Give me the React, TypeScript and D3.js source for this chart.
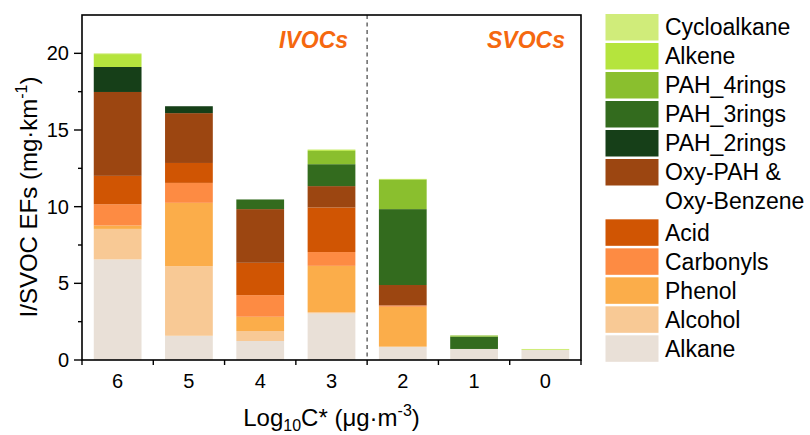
import * as d3 from 'd3'

const categories = ['6', '5', '4', '3', '2', '1', '0']

const groups = [
  'Alkane', 'Alcohol', 'Phenol', 'Carbonyls', 'Acid', 'OxyPAH',
  'PAH_2rings', 'PAH_3rings', 'PAH_4rings', 'Alkene', 'Cycloalkane',
]

// per category, bottom → top
const alkane = [6.56, 1.58, 1.24, 3.04, 0.87, 0.72, 0.65]
const alcohol = [1.99, 4.54, 0.65, 0.08, 0, 0, 0]
const phenol = [0.22, 4.13, 0.93, 3.02, 2.6, 0, 0]
const carbonyls = [1.39, 1.3, 1.41, 0.9, 0.09, 0, 0]
const acid = [1.85, 1.3, 2.11, 2.91, 0, 0, 0]
const oxyPah = [5.47, 3.25, 3.5, 1.39, 1.33, 0, 0]
const pah2 = [1.63, 0.45, 0, 0, 0, 0, 0]
const pah3 = [0, 0, 0.63, 1.43, 4.95, 0.8, 0]
const pah4 = [0, 0, 0, 0.87, 1.93, 0.08, 0]
const alkene = [0.84, 0, 0, 0.08, 0.04, 0, 0]
const cycloalkane = [0.05, 0, 0, 0, 0, 0, 0.07]

const series = [alkane, alcohol, phenol, carbonyls, acid, oxyPah, pah2, pah3, pah4, alkene, cycloalkane]

const colors = ['#e9e0d7', '#f8c995', '#fbad4a', '#fd8b43', '#d05503', '#9c4611',
  '#163f18', '#336b1e', '#8abf2e', '#b5e43d', '#d0ec7a']

// legend, top → bottom
const legendItems = [
  { key: 'Cycloalkane', lines: ['Cycloalkane'] },
  { key: 'Alkene', lines: ['Alkene'] },
  { key: 'PAH_4rings', lines: ['PAH_4rings'] },
  { key: 'PAH_3rings', lines: ['PAH_3rings'] },
  { key: 'PAH_2rings', lines: ['PAH_2rings'] },
  { key: 'OxyPAH', lines: ['Oxy-PAH &', 'Oxy-Benzene'] },
  { key: 'Acid', lines: ['Acid'] },
  { key: 'Carbonyls', lines: ['Carbonyls'] },
  { key: 'Phenol', lines: ['Phenol'] },
  { key: 'Alcohol', lines: ['Alcohol'] },
  { key: 'Alkane', lines: ['Alkane'] },
]

const yMajor = [0, 5, 10, 15, 20]
const yMinor = [2.5, 7.5, 12.5, 17.5]

const font = 'Liberation Sans, Arial, sans-serif'

export default function App() {
  const margin = { top: 15, left: 82 }
  const plotW = 499
  const plotH = 345

  const x = d3.scaleBand().domain(categories).range([0, plotW]).padding(0)
  const y = d3.scaleLinear().domain([0, 22.5]).range([plotH, 0])
  const barW = x.bandwidth() * 0.67

  const rows = categories.map((c, i) => {
    const r: Record<string, any> = { cat: c }
    groups.forEach((g, j) => { r[g] = series[j][i] })
    return r
  })
  const stacked = d3.stack<any>().keys(groups)(rows)
  const color = d3.scaleOrdinal<string>().domain(groups).range(colors)

  const boundaries = d3.range(categories.length + 1).map(i => i * x.step())

  return (
    <svg width={810} height={435} style={{ position: 'absolute', left: 0, top: 0 }} fontFamily={font}>
      <g transform={`translate(${margin.left},${margin.top})`}>
        {stacked.map(s => (
          <g key={s.key} fill={color(s.key)}>
            {s.map((d, i) => d[1] - d[0] > 0 ? (
              <rect key={i}
                x={(x(categories[i]) || 0) + (x.bandwidth() - barW) / 2}
                y={y(d[1])}
                width={barW}
                height={y(d[0]) - y(d[1])} />
            ) : null)}
          </g>
        ))}

        {/* IVOC / SVOC divider */}
        <line x1={x('2')} x2={x('2')} y1={0} y2={plotH}
          stroke="#7a7a7a" strokeWidth={1.7} strokeDasharray="4,3.5" />
        <text x={(x('2') || 0) - 19} y={33} textAnchor="end" fontSize={23}
          fontWeight="bold" fontStyle="italic" fill="#f5680f">IVOCs</text>
        <text x={plotW - 16} y={33} textAnchor="end" fontSize={23}
          fontWeight="bold" fontStyle="italic" fill="#f5680f">SVOCs</text>

        {/* frame */}
        <rect x={0} y={0} width={plotW} height={plotH} fill="none" stroke="#000" strokeWidth={1.6} />

        {/* y ticks */}
        {yMajor.map(v => (
          <g key={v} transform={`translate(0,${y(v)})`}>
            <line x1={-8} x2={0} stroke="#000" strokeWidth={1.4} />
            <text x={-13} dy="0.35em" textAnchor="end" fontSize={20}>{v}</text>
          </g>
        ))}
        {yMinor.map(v => (
          <line key={v} x1={-4} x2={0} y1={y(v)} y2={y(v)} stroke="#000" strokeWidth={1.4} />
        ))}

        {/* x ticks */}
        {boundaries.map((b, i) => (
          <line key={i} x1={b} x2={b} y1={plotH} y2={plotH + 5} stroke="#000" strokeWidth={1.4} />
        ))}
        {categories.map(c => (
          <text key={c} x={(x(c) || 0) + x.bandwidth() / 2} y={plotH + 28}
            textAnchor="middle" fontSize={20}>{c}</text>
        ))}

        <text x={plotW / 2} y={plotH + 66} textAnchor="middle" fontSize={24}>
          Log<tspan fontSize={16} dy={5}>10</tspan><tspan dy={-5}>C* (μg·m</tspan>
          <tspan fontSize={16} dy={-10}>-3</tspan><tspan dy={10}>)</tspan>
        </text>
      </g>

      <text transform="translate(37,197) rotate(-90)" textAnchor="middle" fontSize={24}>
        I/SVOC EFs (mg·km<tspan fontSize={16} dy={-10}>-1</tspan><tspan dy={10}>)</tspan>
      </text>

      {/* legend */}
      <g>
        {legendItems.map((item, i) => {
          const slot = i + (i >= 6 ? 1.08 : 0)
          const top = 14 + slot * 29
          return (
            <g key={item.key}>
              <rect x={605.5} y={top} width={53} height={26.5} fill={color(item.key)} />
              {item.lines.map((ln, k) => (
                <text key={k} x={665} y={top + 13.25 + k * 29} dy="0.35em" fontSize={23}>{ln}</text>
              ))}
            </g>
          )
        })}
      </g>
    </svg>
  )
}
